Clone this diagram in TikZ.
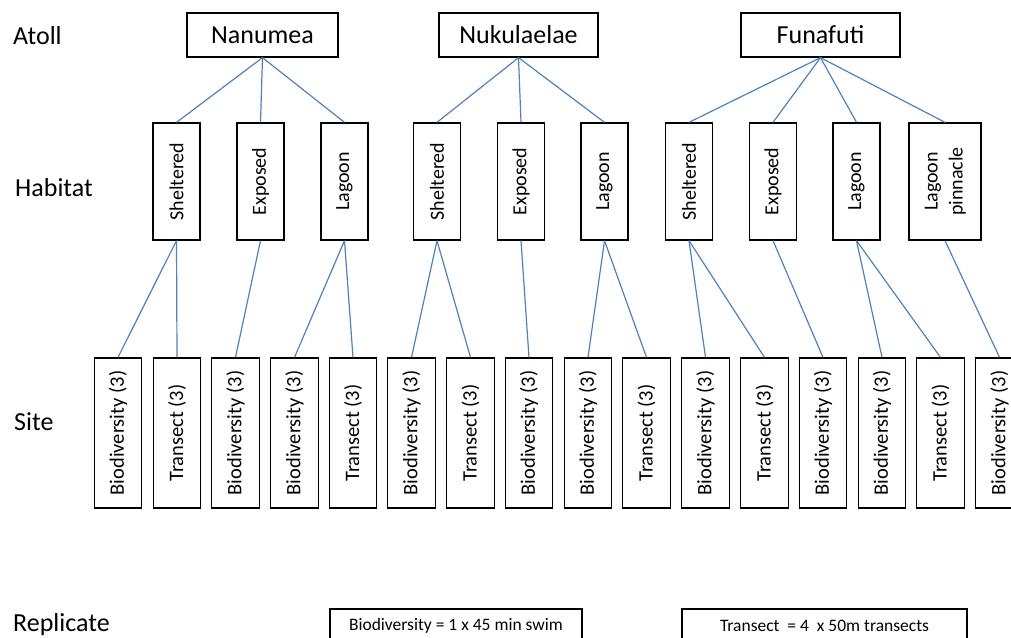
\documentclass[tikz,border=0pt]{standalone}
\usepackage{fontspec}
\setmainfont{Carlito}
\definecolor{linkblue}{RGB}{79,129,189}
\begin{document}
\begin{tikzpicture}[x=1pt,y=-1pt,
  box/.style={draw=black, line width=1.3pt, inner sep=0pt, fill=white},
  atoll/.style={box, minimum height=44pt, font=\fontsize{26}{30}\selectfont},
  hab/.style={box, minimum width=47pt, minimum height=117pt, font=\fontsize{20}{25}\selectfont},
  site/.style={box, minimum width=47.5pt, minimum height=150pt, font=\fontsize{20.5}{24}\selectfont},
  rep/.style={box, minimum height=34pt, font=\fontsize{17.5}{20}\selectfont},
  lvl/.style={anchor=base west, inner sep=0pt, font=\fontsize{26}{30}\selectfont},
  link/.style={draw=linkblue, line width=1.2pt}]
\useasboundingbox (0,0) rectangle (1011,637);
\clip (0,0) rectangle (1011,637);

% level labels
\node[lvl] (lA) at (13,44) {Atoll};
\node[lvl] (lH) at (15,196) {Habitat};
\node[lvl] (lS) at (14,430) {Site};
\node[lvl] (lR) at (13,631) {Replicate};

% atolls
\node[atoll, minimum width=151pt] (aN) at (262.5,35) {Nanumea};
\node[atoll, minimum width=159pt] (aK) at (518.5,35) {Nukulaelae};
\node[atoll, minimum width=159pt] (aF) at (820.5,35) {Funafuti};

% habitats
\node[hab] (hNS) at (176.5,181.5) {\rotatebox{90}{Sheltered}};
\node[hab] (hNE) at (260.5,181.5) {\rotatebox{90}{Exposed}};
\node[hab] (hNL) at (344.5,181.5) {\rotatebox{90}{Lagoon}};
\node[hab] (hKS) at (437,181.5) {\rotatebox{90}{Sheltered}};
\node[hab] (hKE) at (521,181.5) {\rotatebox{90}{Exposed}};
\node[hab] (hKL) at (604.5,181.5) {\rotatebox{90}{Lagoon}};
\node[hab] (hFS) at (689,181.5) {\rotatebox{90}{Sheltered}};
\node[hab] (hFE) at (773,181.5) {\rotatebox{90}{Exposed}};
\node[hab] (hFL) at (856.5,181.5) {\rotatebox{90}{Lagoon}};
\node[hab, minimum width=72pt] (hFP) at (945,181.5) {\rotatebox{90}{\begin{tabular}{@{}c@{}}Lagoon\\pinnacle\end{tabular}}};

% sites
\node[site] (s1) at (118,433) {\rotatebox{90}{Biodiversity (3)}};
\node[site] (s2) at (177,433) {\rotatebox{90}{Transect (3)}};
\node[site] (s3) at (235.5,433) {\rotatebox{90}{Biodiversity (3)}};
\node[site] (s4) at (294.5,433) {\rotatebox{90}{Biodiversity (3)}};
\node[site] (s5) at (353,433) {\rotatebox{90}{Transect (3)}};
\node[site] (s6) at (411.5,433) {\rotatebox{90}{Biodiversity (3)}};
\node[site] (s7) at (470.5,433) {\rotatebox{90}{Transect (3)}};
\node[site] (s8) at (529,433) {\rotatebox{90}{Biodiversity (3)}};
\node[site] (s9) at (588,433) {\rotatebox{90}{Biodiversity (3)}};
\node[site] (s10) at (646.5,433) {\rotatebox{90}{Transect (3)}};
\node[site] (s11) at (705.5,433) {\rotatebox{90}{Biodiversity (3)}};
\node[site] (s12) at (764.5,433) {\rotatebox{90}{Transect (3)}};
\node[site] (s13) at (823,433) {\rotatebox{90}{Biodiversity (3)}};
\node[site] (s14) at (882,433) {\rotatebox{90}{Biodiversity (3)}};
\node[site] (s15) at (940.5,433) {\rotatebox{90}{Transect (3)}};
\node[site] (s16) at (999.5,433) {\rotatebox{90}{Biodiversity (3)}};

% replicate definitions
\node[rep, minimum width=252pt] (r1) at (456,626) {Biodiversity = 1 x 45 min swim};
\node[rep, minimum width=285pt] (r2) at (824.5,626) {Transect\ \ = 4\ \ x 50m transects};

% atoll -> habitat
\foreach \h in {hNS,hNE,hNL} \draw[link] (aN.south) -- (\h.north);
\foreach \h in {hKS,hKE,hKL} \draw[link] (aK.south) -- (\h.north);
\foreach \h in {hFS,hFE,hFL,hFP} \draw[link] (aF.south) -- (\h.north);

% habitat -> site
\draw[link] (hNS.south) -- (s1.north);
\draw[link] (hNS.south) -- (s2.north);
\draw[link] (hNE.south) -- (s3.north);
\draw[link] (hNL.south) -- (s4.north);
\draw[link] (hNL.south) -- (s5.north);
\draw[link] (hKS.south) -- (s6.north);
\draw[link] (hKS.south) -- (s7.north);
\draw[link] (hKE.south) -- (s8.north);
\draw[link] (hKL.south) -- (s9.north);
\draw[link] (hKL.south) -- (s10.north);
\draw[link] (hFS.south) -- (s11.north);
\draw[link] (hFS.south) -- (s12.north);
\draw[link] (hFE.south) -- (s13.north);
\draw[link] (hFL.south) -- (s14.north);
\draw[link] (hFL.south) -- (s15.north);
\draw[link] (hFP.south) -- (s16.north);
\end{tikzpicture}
\end{document}
